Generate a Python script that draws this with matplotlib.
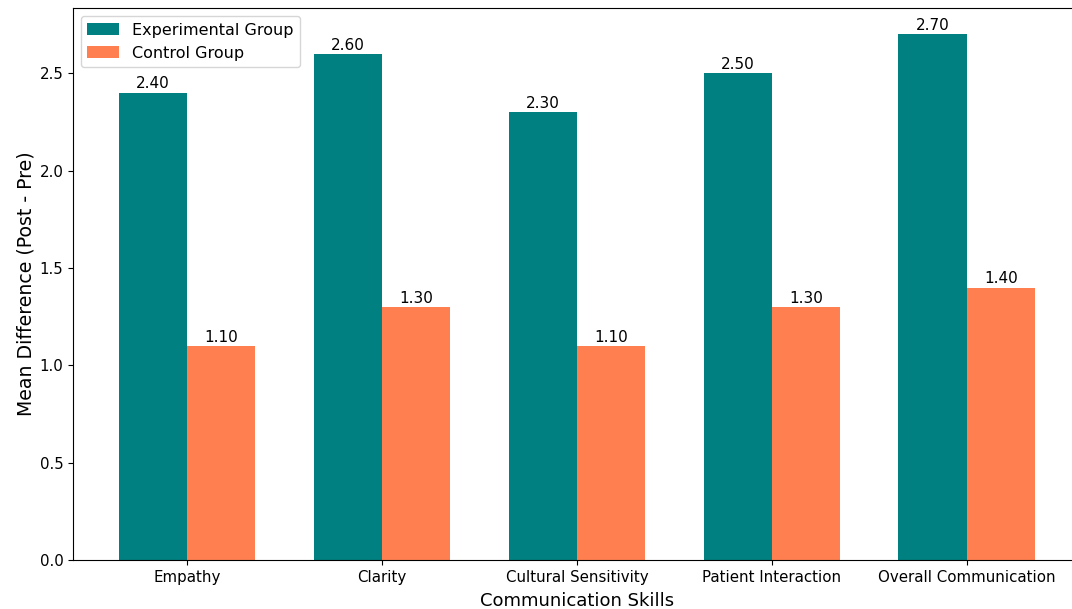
import matplotlib.pyplot as plt
import numpy as np

skills = ["Empathy", "Clarity", "Cultural Sensitivity", "Patient Interaction", "Overall Communication"]
experimental = [2.4, 2.6, 2.3, 2.5, 2.7]
control = [1.1, 1.3, 1.1, 1.3, 1.4]

x = np.arange(len(skills))
width = 0.35

fig = plt.figure(figsize=(10.72, 6.09), dpi=100)
ax = fig.add_axes([0.0681, 0.0805, 0.940, 0.906])

b1 = ax.bar(x - width / 2, experimental, width, label="Experimental Group", color="teal")
b2 = ax.bar(x + width / 2, control, width, label="Control Group", color="coral")

ax.bar_label(b1, fmt="%.2f", padding=1, fontsize=11)
ax.bar_label(b2, fmt="%.2f", padding=1, fontsize=11)

ax.set_xticks(x)
ax.set_xticklabels(skills)
ax.tick_params(labelsize=10.8)
ax.set_xlabel("Communication Skills", fontsize=13, labelpad=5)
ax.set_ylabel("Mean Difference (Post - Pre)", fontsize=13.6, labelpad=3)
ax.legend(loc="upper left", fontsize=11.5)

plt.savefig("out.png", dpi=100)
